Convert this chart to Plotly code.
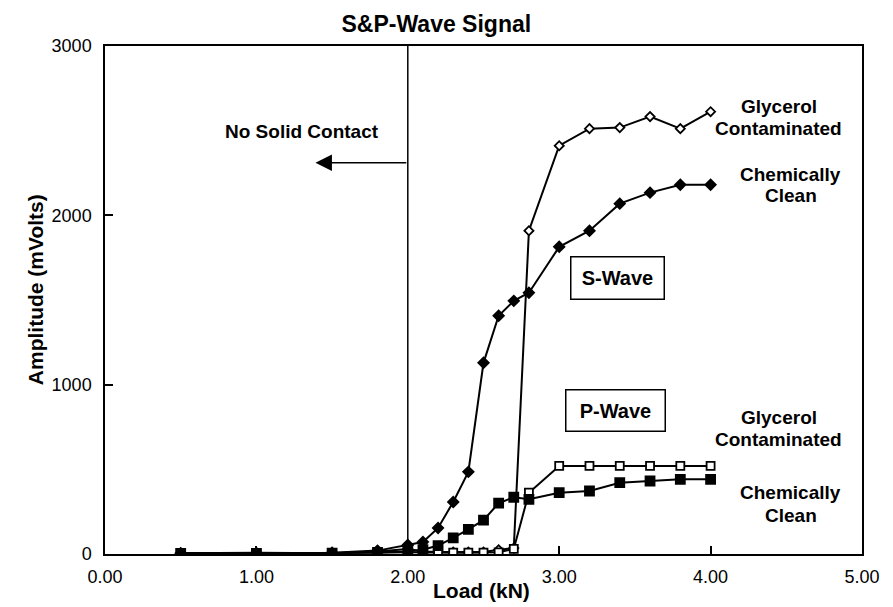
import plotly.graph_objects as go

load_kn = [0.5, 1.0, 1.5, 1.8, 2.0, 2.1, 2.2, 2.3, 2.4, 2.5, 2.6, 2.7, 2.8, 3.0, 3.2, 3.4, 3.6, 3.8, 4.0]
s_glycerol = [5, 8, 5, 15, 30, 15, 12, 12, 12, 12, 25, 35, 1909, 2411, 2512, 2518, 2583, 2512, 2612]
s_clean = [5, 5, 8, 20, 53, 71, 154, 307, 485, 1129, 1407, 1495, 1543, 1814, 1909, 2069, 2134, 2181, 2181]
p_glycerol = [3, 5, 3, 8, 10, 8, 8, 8, 8, 8, 10, 30, 362, 520, 520, 520, 520, 520, 520]
p_clean = [3, 3, 5, 10, 15, 25, 50, 95, 145, 200, 300, 335, 323, 362, 372, 421, 431, 441, 441]

x_ticks = [0, 1, 2, 3, 4, 5]
x_tick_labels = ["0.00", "1.00", "2.00", "3.00", "4.00", "5.00"]
y_ticks = [0, 1000, 2000, 3000]
y_tick_labels = ["0", "1000", "2000", "3000"]

FONT = "Liberation Sans, Arial, sans-serif"
BLACK = "#000000"

fig = go.Figure()

series = [
    ("S-Wave Glycerol Contaminated", s_glycerol, "diamond", 7, "white"),
    ("S-Wave Chemically Clean", s_clean, "diamond", 8, BLACK),
    ("P-Wave Glycerol Contaminated", p_glycerol, "square", 8, "white"),
    ("P-Wave Chemically Clean", p_clean, "square", 9, BLACK),
]
for name, vals, sym, sz, fill in series:
    fig.add_trace(go.Scatter(
        x=load_kn, y=vals, mode="lines+markers", name=name,
        line=dict(color=BLACK, width=2),
        marker=dict(symbol=sym, size=sz, color=fill, line=dict(color=BLACK, width=1.8)),
        showlegend=False,
    ))

# vertical boundary at 2.0 kN
fig.add_shape(type="line", x0=2.0, x1=2.0, y0=0, y1=3000, xref="x", yref="y",
              line=dict(color=BLACK, width=1.5))

annotations = [
    dict(x=1.39, y=2311, ax=2.0, ay=2311, xref="x", yref="y", axref="x", ayref="y",
         text="", showarrow=True, arrowhead=2, arrowsize=2.2, arrowwidth=1.5, arrowcolor=BLACK),
    dict(x=1.30, y=2494, text="<b>No Solid Contact</b>", showarrow=False,
         font=dict(size=19, family=FONT, color=BLACK)),
    dict(x=3.388, y=1628, text="<b>S-Wave</b>", showarrow=False, width=88, height=37,
         bordercolor=BLACK, borderwidth=1.5, borderpad=2, bgcolor="white",
         font=dict(size=20, family=FONT, color=BLACK)),
    dict(x=3.369, y=848, text="<b>P-Wave</b>", showarrow=False, width=94, height=36,
         bordercolor=BLACK, borderwidth=1.5, borderpad=2, bgcolor="white",
         font=dict(size=20, family=FONT, color=BLACK)),
    dict(xref="paper", yref="paper", x=-0.092, y=0.52, text="<b>Amplitude (mVolts)</b>",
         textangle=-90, showarrow=False, xanchor="center", yanchor="middle",
         font=dict(size=21, family=FONT, color=BLACK)),
    dict(xref="paper", yref="paper", x=0.497, y=-0.072, text="<b>Load (kN)</b>",
         showarrow=False, xanchor="center", yanchor="middle",
         font=dict(size=21, family=FONT, color=BLACK)),
]
right_labels = [
    ("Glycerol", 4.45, 2641), ("Contaminated", 4.45, 2511),
    ("Chemically", 4.53, 2240), ("Clean", 4.53, 2115),
    ("Glycerol", 4.45, 804), ("Contaminated", 4.45, 674),
    ("Chemically", 4.53, 366), ("Clean", 4.53, 230),
]
for txt, xv, yv in right_labels:
    annotations.append(dict(x=xv, y=yv, text=f"<b>{txt}</b>", showarrow=False,
                            font=dict(size=19, family=FONT, color=BLACK)))

fig.update_layout(
    width=885, height=599,
    margin=dict(l=97, r=31, t=38, b=53),
    paper_bgcolor="white", plot_bgcolor="white",
    font=dict(family=FONT, color=BLACK),
    title=dict(text="<b>S&P-Wave Signal</b>", x=0.484, xanchor="center", y=0.974, yanchor="middle",
               font=dict(size=23, family=FONT, color=BLACK)),
    annotations=annotations,
)
fig.update_xaxes(
    range=[0, 5], tickvals=x_ticks, ticktext=x_tick_labels,
    showline=True, linecolor=BLACK, linewidth=1.5, mirror=True,
    ticks="inside", ticklen=8, tickwidth=1.5, tickcolor=BLACK,
    showgrid=False, zeroline=False, ticklabelstandoff=6, automargin=False,
    tickfont=dict(size=18, family=FONT, color=BLACK),
)
fig.update_yaxes(
    range=[0, 3000], tickvals=y_ticks, ticktext=y_tick_labels,
    showline=True, linecolor=BLACK, linewidth=1.5, mirror=True,
    ticks="inside", ticklen=8, tickwidth=1.5, tickcolor=BLACK,
    showgrid=False, zeroline=False, ticklabelstandoff=8, automargin=False,
    tickfont=dict(size=18, family=FONT, color=BLACK),
)

fig.write_html("out.html")
